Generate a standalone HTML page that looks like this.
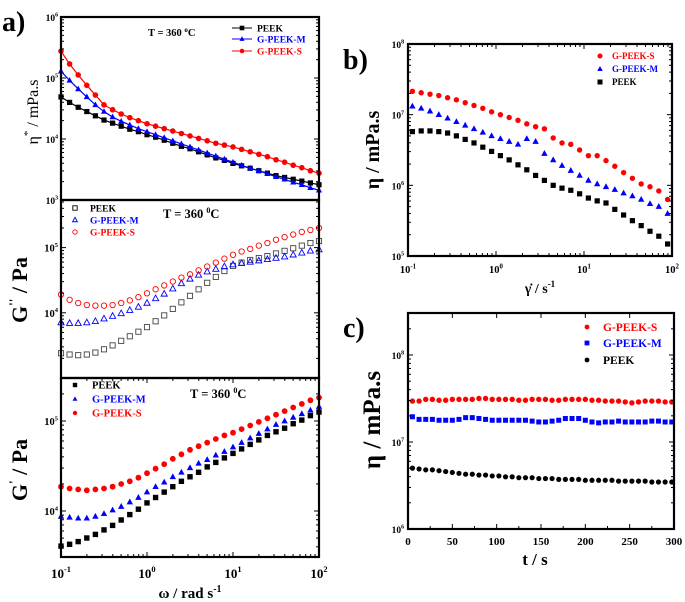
<!DOCTYPE html>
<html><head><meta charset="utf-8"><style>
html,body{margin:0;padding:0;background:#fff;}
svg{display:block;font-family:"Liberation Serif",serif;font-weight:bold;}
</style></head><body>
<svg id="fig" width="685" height="602" viewBox="0 0 685 602" xmlns="http://www.w3.org/2000/svg"></svg>
<script>
// ---------- DATA (log10 values) ----------
const omegaLog = [-1,-0.9,-0.8,-0.7,-0.6,-0.5,-0.4,-0.3,-0.2,-0.1,0,0.1,0.2,0.3,0.4,0.5,0.6,0.7,0.8,0.9,1,1.1,1.2,1.3,1.4,1.5,1.6,1.7,1.8,1.9,2];
const etaStarPEEK = [4.69,4.60,4.52,4.45,4.38,4.31,4.26,4.21,4.16,4.12,4.07,4.03,3.98,3.93,3.88,3.84,3.79,3.74,3.69,3.65,3.60,3.56,3.52,3.48,3.44,3.40,3.37,3.34,3.31,3.28,3.25];
const etaStarM = [5.11,4.96,4.82,4.69,4.56,4.45,4.36,4.29,4.23,4.17,4.12,4.07,4.02,3.97,3.92,3.87,3.82,3.77,3.72,3.67,3.62,3.57,3.52,3.48,3.43,3.38,3.34,3.29,3.25,3.20,3.16];
const etaStarS = [5.44,5.23,5.05,4.88,4.72,4.56,4.48,4.41,4.35,4.30,4.25,4.21,4.17,4.13,4.09,4.05,4.01,3.97,3.93,3.90,3.87,3.83,3.79,3.75,3.71,3.66,3.62,3.57,3.53,3.48,3.44];
const gppPEEK = [3.38,3.36,3.35,3.36,3.39,3.44,3.50,3.57,3.64,3.71,3.78,3.87,3.96,4.06,4.16,4.26,4.36,4.46,4.55,4.64,4.72,4.77,4.81,4.84,4.87,4.91,4.95,4.99,5.03,5.07,5.10];
const gppM = [3.85,3.84,3.84,3.85,3.87,3.91,3.95,3.99,4.04,4.09,4.15,4.22,4.29,4.37,4.45,4.52,4.58,4.63,4.67,4.71,4.74,4.76,4.78,4.80,4.82,4.84,4.86,4.89,4.92,4.95,4.97];
const gppS = [4.28,4.20,4.15,4.12,4.11,4.11,4.12,4.15,4.19,4.24,4.30,4.36,4.42,4.48,4.54,4.59,4.65,4.71,4.77,4.83,4.89,4.94,4.98,5.03,5.07,5.12,5.16,5.20,5.24,5.27,5.30];
const gpPEEK = [3.61,3.63,3.66,3.70,3.74,3.79,3.84,3.90,3.96,4.02,4.09,4.15,4.21,4.27,4.33,4.38,4.43,4.49,4.54,4.59,4.64,4.69,4.74,4.79,4.84,4.88,4.92,4.97,5.01,5.06,5.10];
const gpM = [3.94,3.93,3.92,3.92,3.94,3.97,4.01,4.05,4.10,4.15,4.21,4.27,4.32,4.38,4.43,4.48,4.53,4.57,4.62,4.66,4.71,4.76,4.81,4.86,4.91,4.96,5.00,5.04,5.08,5.12,5.16];
const gpS = [4.27,4.25,4.24,4.23,4.24,4.25,4.27,4.30,4.33,4.37,4.42,4.47,4.52,4.58,4.63,4.68,4.72,4.76,4.80,4.84,4.87,4.91,4.95,4.99,5.03,5.07,5.11,5.15,5.19,5.23,5.26];
const shearLog = [-0.95,-0.85,-0.75,-0.65,-0.55,-0.45,-0.35,-0.25,-0.15,-0.05,0.05,0.15,0.25,0.35,0.45,0.55,0.65,0.75,0.85,0.95,1.05,1.15,1.25,1.35,1.45,1.55,1.65,1.75,1.85,1.95];
const etaS = [7.33,7.31,7.29,7.27,7.24,7.21,7.17,7.13,7.09,7.04,7.00,6.96,6.92,6.87,6.83,6.80,6.67,6.60,6.58,6.50,6.42,6.42,6.35,6.27,6.18,6.10,6.02,5.98,5.92,5.80];
const etaM = [7.12,7.09,7.05,7.00,6.95,6.90,6.85,6.80,6.75,6.70,6.66,6.62,6.58,6.66,6.62,6.45,6.36,6.28,6.21,6.14,6.07,6.02,5.98,5.94,5.89,5.85,5.80,5.74,5.70,5.60];
const etaP = [6.76,6.77,6.77,6.76,6.74,6.70,6.65,6.60,6.54,6.48,6.42,6.36,6.29,6.22,6.14,6.07,6.00,5.96,5.93,5.88,5.82,5.78,5.75,5.66,5.58,5.50,5.43,5.35,5.28,5.17];
const timeS = [5,12.5,20,27.5,35,42.5,50,57.5,65,72.5,80,87.5,95,102.5,110,117.5,125,132.5,140,147.5,155,162.5,170,177.5,185,192.5,200,207.5,215,222.5,230,237.5,245,252.5,260,267.5,275,282.5,290,297.5];
const tEtaS = [7.47,7.47,7.49,7.49,7.48,7.48,7.49,7.49,7.49,7.49,7.50,7.50,7.49,7.49,7.49,7.49,7.48,7.48,7.49,7.49,7.49,7.48,7.48,7.49,7.49,7.49,7.49,7.48,7.48,7.47,7.47,7.47,7.46,7.45,7.46,7.47,7.47,7.47,7.46,7.46];
const tEtaM = [7.29,7.26,7.26,7.26,7.25,7.25,7.25,7.26,7.28,7.28,7.27,7.26,7.25,7.25,7.25,7.25,7.25,7.25,7.24,7.23,7.23,7.24,7.25,7.27,7.27,7.27,7.25,7.23,7.22,7.23,7.23,7.24,7.23,7.23,7.23,7.23,7.24,7.24,7.23,7.23];
const tEtaP = [6.70,6.69,6.68,6.68,6.67,6.66,6.65,6.64,6.63,6.63,6.62,6.62,6.61,6.61,6.60,6.60,6.59,6.59,6.59,6.58,6.58,6.58,6.57,6.57,6.57,6.57,6.56,6.56,6.56,6.56,6.56,6.55,6.55,6.55,6.55,6.55,6.54,6.54,6.54,6.54];
const tTicks = [0,50,100,150,200,250,300];

// ---------- helpers ----------
const NS="http://www.w3.org/2000/svg", svg=document.getElementById('fig');
const BLK="#000", BLU="#0000ff", RED="#ff0000";
function mk(tag,attrs,parent){const e=document.createElementNS(NS,tag);for(const k in attrs)e.setAttribute(k,attrs[k]);(parent||svg).appendChild(e);return e;}
function txt(x,y,s,size,fill,anchor,parent){const t=mk('text',{x:x,y:y,'font-size':size,fill:fill||BLK,'text-anchor':anchor||'start'},parent);t.innerHTML=s;return t;}
function scale(d0,d1,p0,p1){return v=>p0+(v-d0)*(p1-p0)/(d1-d0);}
function marker(g,shape,x,y,r,color,open){
  let e;
  if(shape==='sq') e=mk('rect',{x:x-r,y:y-r,width:2*r,height:2*r},g);
  else if(shape==='tri') e=mk('polygon',{points:`${x},${y-r*1.2} ${x-r*1.1},${y+r*0.8} ${x+r*1.1},${y+r*0.8}`},g);
  else e=mk('circle',{cx:x,cy:y,r:r},g);
  if(open){e.setAttribute('fill','none');e.setAttribute('stroke',color);e.setAttribute('stroke-width','0.9');}
  else e.setAttribute('fill',color);
  return e;
}
function series(name,xs,ys,sx,sy,shape,color,r,open,line){
  const g=mk('g',{});
  
  
  if(line){mk('polyline',{points:xs.map((v,i)=>sx(v)+','+sy(ys[i])).join(' '),fill:'none',stroke:color,'stroke-width':1.2},g);}
  xs.forEach((v,i)=>{const m=marker(g,shape,sx(v),sy(ys[i]),r,color,open);});
}
function frame(name,x0,y0,x1,y1){const r=mk('rect',{x:x0,y:y0,width:x1-x0,height:y1-y0,fill:'none',stroke:BLK,'stroke-width':2.2});}
function logYTicks(sy,x0,x1,lo,hi,majors,labelX,size){
  for(let d=Math.floor(lo);d<=Math.ceil(hi);d++){
    for(let k=1;k<10;k++){const v=d+Math.log10(k);if(v<lo-1e-6||v>hi+1e-6)continue;const y=sy(v);const L=k===1?5:3;
      mk('line',{x1:x0,y1:y,x2:x0+L,y2:y,stroke:BLK,'stroke-width':1});mk('line',{x1:x1,y1:y,x2:x1-L,y2:y,stroke:BLK,'stroke-width':1});}
  }
  majors.forEach(d=>{const t=txt(labelX,sy(d)+4,`10<tspan font-size="${size*0.62}" dy="-${size*0.45}">${d}</tspan>`,size,BLK,'end');});
}
function logXTicks(sx,y0,y1,lo,hi,labelY,size,labels){
  for(let d=Math.floor(lo);d<=hi;d++)for(let k=1;k<10;k++){const v=d+Math.log10(k);if(v>hi+1e-6)continue;const x=sx(v);const L=k===1?5:3;
    mk('line',{x1:x,y1:y1,x2:x,y2:y1-L,stroke:BLK,'stroke-width':1});mk('line',{x1:x,y1:y0,x2:x,y2:y0+L,stroke:BLK,'stroke-width':1});}
  if(labels)for(let d=lo;d<=hi;d++){const t=txt(sx(d),labelY,`10<tspan font-size="${size*0.65}" dy="-${size*0.45}">${d}</tspan>`,size,BLK,'middle');}
}
function legend(name,items,x,ys,size,tx,r,lineLen){
  const g=mk('g',{});
  items.forEach((it,i)=>{const y=ys[i];
    if(lineLen){mk('line',{x1:x-lineLen/2,y1:y,x2:x+lineLen/2,y2:y,stroke:it[2],'stroke-width':1},g);}
    marker(g,it[1],x,y,r,it[2],it[3]);
    const t=txt(tx,y+size*0.35,it[0],size,it[2],'start',g);});
}

// ---------- panel a ----------
const axL=61, axR=319;
const sxA=scale(-1,2,axL,axR);
const syA1=scale(3,6,200,17);
series('eta-star-peek',omegaLog,etaStarPEEK,sxA,syA1,'sq',BLK,2.6,false,true);
series('eta-star-g-peek-m',omegaLog,etaStarM,sxA,syA1,'tri',BLU,2.8,false,true);
series('eta-star-g-peek-s',omegaLog,etaStarS,sxA,syA1,'circ',RED,2.8,false,true);
frame('panel-a-top-frame',axL,17,axR,200);
logYTicks(syA1,axL,axR,3,6,[3,4,5,6],58,9.5);
legend('legend-a-top',[['PEEK','sq',BLK],['G-PEEK-M','tri',BLU],['G-PEEK-S','circ',RED]],242,[28,39,51],9.5,257,2.3,20);
txt(148,36,'T = 360 <tspan font-size="7" dy="-4">o</tspan><tspan dy="4">C</tspan>',10.5);
const ya1=txt(0,0,'η<tspan font-size="11" dy="-7">*</tspan><tspan dy="7"> / mPa.s</tspan>',16);ya1.setAttribute('transform','translate(38,112) rotate(-90)');ya1.setAttribute('text-anchor','middle');ya1.setAttribute('font-weight','normal');

const syA2=scale(3,5.73,378,200);
series('gpp-peek',omegaLog,gppPEEK,sxA,syA2,'sq',"#444",2.6,true,false);
series('gpp-g-peek-m',omegaLog,gppM,sxA,syA2,'tri',BLU,2.8,true,false);
series('gpp-g-peek-s',omegaLog,gppS,sxA,syA2,'circ',RED,2.7,true,false);
frame('panel-a-middle-frame',axL,200,axR,378);
logYTicks(syA2,axL,axR,3,5.73,[4,5],58,10.5);
legend('legend-a-middle',[['PEEK','sq',BLK,true],['G-PEEK-M','tri',BLU,true],['G-PEEK-S','circ',RED,true]],75,[208,220,232],9.5,90,2.2,0);
txt(163,218,'T = 360 <tspan font-size="8" dy="-5">0</tspan><tspan dy="5">C</tspan>',12.5);
const ya2=txt(0,0,'G<tspan font-size="13" dy="-9">\'\'</tspan><tspan dy="9"> / Pa</tspan>',22);ya2.setAttribute('transform','translate(27,290) rotate(-90)');ya2.setAttribute('text-anchor','middle');

const syA3=scale(4,5,511,421);
series('gp-peek',omegaLog,gpPEEK,sxA,syA3,'sq',BLK,2.7,false,false);
series('gp-g-peek-m',omegaLog,gpM,sxA,syA3,'tri',BLU,2.9,false,false);
series('gp-g-peek-s',omegaLog,gpS,sxA,syA3,'circ',RED,2.9,false,false);
frame('panel-a-bottom-frame',axL,378,axR,557);
logYTicks(syA3,axL,axR,3.49,5.48,[4,5],58,10.5);
logXTicks(sxA,378,557,-1,2,578,13,true);
legend('legend-a-bottom',[['PEEK','sq',BLK],['G-PEEK-M','tri',BLU],['G-PEEK-S','circ',RED]],75,[385,399,413],10.5,92,2.2,0);
txt(190,398,'T = 360 <tspan font-size="8" dy="-5">0</tspan><tspan dy="5">C</tspan>',12.5);
const ya3=txt(0,0,'G<tspan font-size="13" dy="-9">\'</tspan><tspan dy="9"> / Pa</tspan>',22);ya3.setAttribute('transform','translate(27,470) rotate(-90)');ya3.setAttribute('text-anchor','middle');

const xa=txt(190,598,'ω / rad s<tspan font-size="10" dy="-6">-1</tspan>',15,BLK,'middle');
const la=txt(2,31,'a)',28);

// ---------- panel b ----------
const sxB=scale(-1,2,408,672), syB=scale(5,8,256,44);
series('eta-g-peek-s-shear',shearLog,etaS,sxB,syB,'circ',RED,2.7,false,false);
series('eta-g-peek-m-shear',shearLog,etaM,sxB,syB,'tri',BLU,2.9,false,false);
series('eta-peek-shear',shearLog,etaP,sxB,syB,'sq',BLK,2.6,false,false);
frame('panel-b-frame',408,44,672,256);
logYTicks(syB,408,672,5,8,[5,6,7,8],404,9.5);
logXTicks(sxB,44,256,-1,2,273,10.5,true);
legend('legend-b',[['G-PEEK-S','circ',RED],['G-PEEK-M','tri',BLU],['PEEK','sq',BLK]],600,[56,69,82],9,612,2.5,0);
const yb=txt(0,0,'η / mPa.s',20,BLK,'middle');yb.setAttribute('transform','translate(379,150) rotate(-90)');
const xb=txt(540,293,'γ̇ / s<tspan font-size="9" dy="-6">-1</tspan>',14,BLK,'middle');
const lb=txt(343,69,'b)',28);

// ---------- panel c ----------
const sxC=scale(0,300,408,674), syC=scale(6,8,529,355);
series('eta-time-g-peek-s',timeS,tEtaS,sxC,syC,'circ',RED,2.7,false,false);
series('eta-time-g-peek-m',timeS,tEtaM,sxC,syC,'sq',BLU,2.5,false,false);
series('eta-time-peek',timeS,tEtaP,sxC,syC,'circ',BLK,2.6,false,false);
frame('panel-c-frame',408,313,674,529);
logYTicks(syC,408,674,6,8.48,[6,7,8],404,9.5);
tTicks.forEach(t=>{const x=sxC(t);mk('line',{x1:x,y1:529,x2:x,y2:524,stroke:BLK,'stroke-width':1});mk('line',{x1:x,y1:313,x2:x,y2:318,stroke:BLK,'stroke-width':1});
  const l=txt(x,545,String(t),11,BLK,'middle');});
tTicks.slice(0,-1).forEach(t=>{const x=sxC(t+25);mk('line',{x1:x,y1:529,x2:x,y2:526,stroke:BLK,'stroke-width':1});});
legend('legend-c',[['G-PEEK-S','circ',RED],['G-PEEK-M','sq',BLU],['PEEK','circ',BLK]],587,[327,343,360],11.5,603,2.4,0);
const yc=txt(0,0,'η / mPa.s',25,BLK,'middle');yc.setAttribute('transform','translate(380,420) rotate(-90)');
const xc=txt(535,565,'t / s',17,BLK,'middle');
const lc=txt(343,337,'c)',28);
</script>
</body></html>
